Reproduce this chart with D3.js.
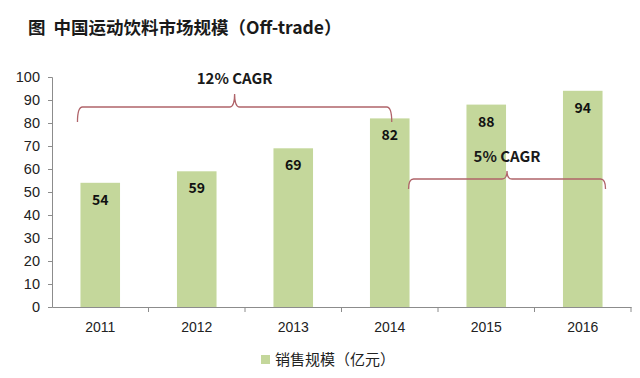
<!DOCTYPE html>
<html><head><meta charset="utf-8">
<script src="https://cdn.jsdelivr.net/npm/d3@7"></script>
<style>
html,body{margin:0;padding:0;background:#fff;}
text{font-family:"Noto Sans CJK SC","Microsoft YaHei",sans-serif;}
</style></head>
<body><svg id="c" width="640" height="378"></svg>
<script>
const years = ["2011","2012","2013","2014","2015","2016"];
const sales = [54, 59, 69, 82, 88, 94];
const yTicks = [0,10,20,30,40,50,60,70,80,90,100];
const title = "图  中国运动饮料市场规模（Off-trade）";
const legendLabel = "销售规模（亿元）";
const cagrLabels = ["12% CAGR", "5% CAGR"];

(function(){
const svg = d3.select("#c");
const mLeft = 52, mRight = 631, mTop = 77, mBottom = 307;
const x = d3.scaleBand().domain(years).range([mLeft, mRight]).paddingInner(0.59).paddingOuter(0.295);
const xb = d3.scaleBand().domain(years).range([mLeft, mRight]);
const y = d3.scaleLinear().domain([0,100]).range([mBottom, mTop]);
const barColor = "#c4d79b", axisColor = "#8c8c8c", bracketColor = "#b0646a";

svg.append("text").attr("x", 28).attr("y", 34).attr("font-size", 17.5).attr("font-weight", "bold")
  .style("white-space","pre").attr("fill", "#1a1a1a").text(title);

svg.selectAll("rect.bar").data(sales).join("rect").attr("class","bar")
  .attr("x", (d,i)=>x(years[i])).attr("width", x.bandwidth())
  .attr("y", d=>y(d)).attr("height", d=>y(0)-y(d)).attr("fill", barColor);

svg.selectAll("text.val").data(sales).join("text").attr("class","val")
  .attr("x", (d,i)=>x(years[i])+x.bandwidth()/2).attr("y", d=>y(d)+22)
  .attr("text-anchor","middle").attr("font-size",14).attr("font-weight","bold").attr("fill","#111")
  .text(d=>d);

const ya = svg.append("g").attr("transform",`translate(${mLeft},0)`)
  .call(d3.axisLeft(y).tickValues(yTicks).tickSize(4).tickPadding(8));
ya.select(".domain").attr("stroke", axisColor);
ya.selectAll(".tick line").attr("stroke", axisColor);
ya.selectAll(".tick text").attr("font-size",14.5).attr("fill","#222")
  .style("font-family","'Liberation Sans',Arial,sans-serif");

const xa = svg.append("g").attr("transform",`translate(0,${mBottom})`)
  .call(d3.axisBottom(xb).tickSize(0).tickPadding(15));
xa.select(".domain").attr("stroke", axisColor);
xa.selectAll(".tick text").attr("font-size",14).attr("fill","#222")
  .style("font-family","'Liberation Sans',Arial,sans-serif");
const bounds = years.map(yr => xb(yr)+xb.bandwidth());
svg.append("g").selectAll("line").data(bounds).join("line")
  .attr("x1", d=>d).attr("x2", d=>d).attr("y1", mBottom).attr("y2", mBottom+5).attr("stroke", axisColor);

function brace(x1, x2, yh, drop, peak, label, ly){
  const xm = (x1+x2)/2, r = 5;
  const p = `M${x1},${yh+drop} Q${x1},${yh} ${x1+r},${yh} L${xm-r},${yh} Q${xm},${yh} ${xm},${yh-peak} Q${xm},${yh} ${xm+r},${yh} L${x2-r},${yh} Q${x2},${yh} ${x2},${yh+drop}`;
  svg.append("path").attr("d", p).attr("fill","none").attr("stroke", bracketColor).attr("stroke-width",1.3);
  svg.append("text").attr("x", xm).attr("y", ly).attr("text-anchor","middle").attr("font-size",15)
    .attr("font-weight","bold").attr("fill","#1a1a1a").text(label);
}
brace(x("2011")-3, x("2014")+x.bandwidth()/2+2, 107, 15, 13, cagrLabels[0], 84);
brace(x("2014")+x.bandwidth()-1, x("2016")+x.bandwidth()+3, 179, 10, 8, cagrLabels[1], 162);

svg.append("rect").attr("x", 261).attr("y", 355).attr("width", 9).attr("height", 9).attr("fill", barColor);
svg.append("text").attr("x", 275).attr("y", 365).attr("font-size",15).attr("fill","#222").text(legendLabel);
})();
</script></body></html>
